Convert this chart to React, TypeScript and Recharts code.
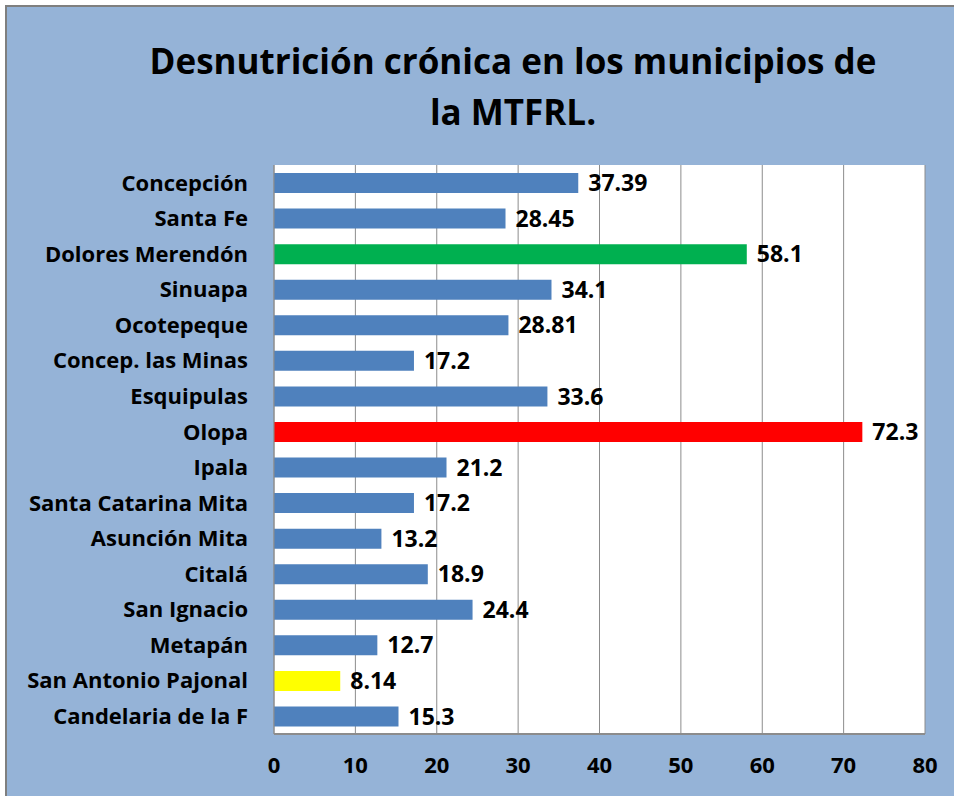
import { BarChart, Bar, XAxis, YAxis, CartesianGrid, Cell, LabelList } from "recharts";

const municipios = [
  "Concepción",
  "Santa Fe",
  "Dolores Merendón",
  "Sinuapa",
  "Ocotepeque",
  "Concep. las Minas",
  "Esquipulas",
  "Olopa",
  "Ipala",
  "Santa Catarina Mita",
  "Asunción Mita",
  "Citalá",
  "San Ignacio",
  "Metapán",
  "San Antonio Pajonal",
  "Candelaria de la F",
];

const desnutricion = [37.39, 28.45, 58.1, 34.1, 28.81, 17.2, 33.6, 72.3, 21.2, 17.2, 13.2, 18.9, 24.4, 12.7, 8.14, 15.3];

const xTicks = [0, 10, 20, 30, 40, 50, 60, 70, 80];

const titulo = ["Desnutrición crónica en los municipios de", "la MTFRL."];

// bars drawn in another colour than the default blue
const destacados: Record<string, string> = {
  "Dolores Merendón": "#00B050",
  Olopa: "#FF0000",
  "San Antonio Pajonal": "#FFFF00",
};

const data = municipios.map((m, i) => ({ name: m, value: desnutricion[i] }));

const font = "'Open Sans', Lato, sans-serif";

export default function App() {
  return (
    <div style={{ position: "absolute", left: 0, top: 0, width: 954, height: 796, background: "#fff", fontFamily: font }}>
      <div
        style={{
          position: "absolute",
          left: 5,
          top: 5,
          width: 949,
          height: 791,
          background: "#95B3D7",
          borderTop: "2px solid #7f7f7f",
          borderLeft: "2px solid #7f7f7f",
          boxSizing: "border-box",
        }}
      />
      <div style={{ position: "absolute", left: 0, top: 0 }}>
        <BarChart
          width={954}
          height={796}
          data={data}
          layout="vertical"
          margin={{ top: 165, right: 29, bottom: 0, left: 14 }}
        >
          <CartesianGrid horizontal={false} stroke="#8c8c8c" fill="#ffffff" />
          <XAxis
            type="number"
            domain={[0, 80]}
            ticks={xTicks}
            interval={0}
            height={62}
            axisLine={{ stroke: "#8c8c8c", strokeWidth: 2 }}
            tickLine={false}
            tickMargin={17}
            tick={{ fill: "#000", fontSize: 22, fontWeight: 700, fontFamily: font }}
          />
          <YAxis
            type="category"
            dataKey="name"
            width={260}
            interval={0}
            axisLine={{ stroke: "#8c8c8c" }}
            tickLine={false}
            tickMargin={20}
            tick={{ fill: "#000", fontSize: 22, fontWeight: 700, fontFamily: font }}
          />
          <Bar dataKey="value" barSize={20} fill="#4F81BD" isAnimationActive={false}>
            {data.map((d) => (
              <Cell key={d.name} fill={destacados[d.name] ?? "#4F81BD"} />
            ))}
            <LabelList
              dataKey="value"
              position="right"
              offset={10}
              fill="#000"
              fontSize={23}
              fontWeight={700}
              fontFamily={font}
            />
          </Bar>
        </BarChart>
      </div>
      <div
        style={{
          position: "absolute",
          left: 63,
          top: 35,
          width: 900,
          textAlign: "center",
          fontSize: 35,
          lineHeight: "51px",
          fontWeight: 700,
          color: "#000",
        }}
      >
        {titulo.map((t) => (
          <div key={t}>{t}</div>
        ))}
      </div>
    </div>
  );
}
